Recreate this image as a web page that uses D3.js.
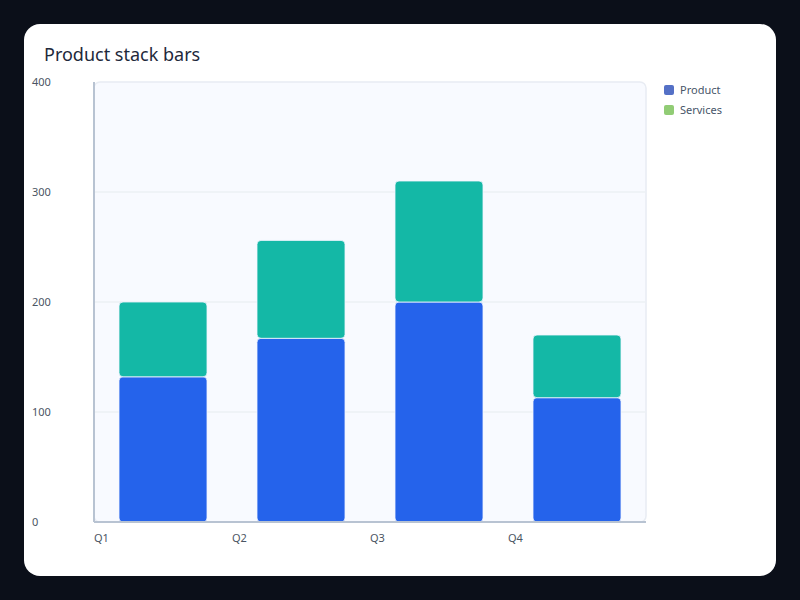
<!DOCTYPE html>
<html>
<head>
<meta charset="utf-8">
<script src="https://cdn.jsdelivr.net/npm/d3@7"></script>
<style>
  html, body { margin: 0; padding: 0; background: #0b0f19; }
  svg { display: block; font-family: "Noto Sans", "Open Sans", sans-serif; }
</style>
</head>
<body>
<div id="chart"></div>
<script>
// datos del grafico
var quarters = ["Q1", "Q2", "Q3", "Q4"];
var productValues = [132, 167, 200, 113];
var servicesValues = [68, 89, 110, 57];
var yTicks = [0, 100, 200, 300, 400];
var seriesNames = ["Product", "Services"];

var width = 800;
var height = 600;

var svg = d3.select("#chart")
            .append("svg")
            .attr("width", width)
            .attr("height", height);

// fondo y tarjeta
svg.append("rect")
    .attr("width", width)
    .attr("height", height)
    .attr("fill", "#0b0f19");

svg.append("rect")
    .attr("x", 24)
    .attr("y", 24)
    .attr("width", 752)
    .attr("height", 552)
    .attr("rx", 16)
    .attr("fill", "#ffffff");

// titulo
svg.append("text")
    .attr("x", 44)
    .attr("y", 61)
    .attr("fill", "#1e293b")
    .style("font-size", "18px")
    .text("Product stack bars");

// escalas
var plotLeft = 94, plotRight = 646, plotTop = 82, plotBottom = 522;

var x = d3.scaleBand()
            .domain(quarters)
            .range([plotLeft, plotRight])
            .paddingInner(50 / 138)
            .paddingOuter(25 / 138);

var y = d3.scaleLinear()
            .domain([0, 400])
            .range([plotBottom, plotTop]);

// area del grafico
svg.append("rect")
    .attr("x", plotLeft)
    .attr("y", plotTop)
    .attr("width", plotRight - plotLeft)
    .attr("height", plotBottom - plotTop)
    .attr("rx", 6)
    .attr("fill", "#f8faff")
    .attr("stroke", "#e8ecf3")
    .attr("stroke-width", 1.5);

// lineas de cuadricula
svg.append("g")
    .selectAll("line")
    .data(yTicks.filter(d => d > 0 && d < 400))
    .enter()
    .append("line")
    .attr("x1", plotLeft)
    .attr("x2", plotRight)
    .attr("y1", d => y(d))
    .attr("y2", d => y(d))
    .attr("stroke", "#edf0f5")
    .attr("stroke-width", 1.5);

// eje Y (etiquetas)
svg.append("g")
    .selectAll("text")
    .data(yTicks)
    .enter()
    .append("text")
    .attr("x", 32)
    .attr("y", d => y(d))
    .attr("dy", "0.35em")
    .attr("fill", "#4b5563")
    .style("font-size", "11px")
    .text(d => d);

// datos apilados
var table = quarters.map(function (q, i) {
    return { quarter: q, Product: productValues[i], Services: servicesValues[i] };
});
var stacked = d3.stack().keys(seriesNames)(table);
var barColors = { Product: "#2563eb", Services: "#14b8a6" };

svg.append("g")
    .selectAll("g")
    .data(stacked)
    .enter()
    .append("g")
    .attr("fill", d => barColors[d.key])
    .selectAll("rect")
    .data(d => d)
    .enter()
    .append("rect")
    .attr("x", d => x(d.data.quarter))
    .attr("y", d => y(d[1]))
    .attr("width", x.bandwidth())
    .attr("height", d => y(d[0]) - y(d[1]))
    .attr("rx", 4)
    .attr("stroke", "#f1f5ff")
    .attr("stroke-width", 0.8);

// lineas de ejes
svg.append("line")
    .attr("x1", plotLeft)
    .attr("x2", plotLeft)
    .attr("y1", plotTop)
    .attr("y2", plotBottom)
    .attr("stroke", "#b8c3d2")
    .attr("stroke-width", 2);

svg.append("line")
    .attr("x1", plotLeft)
    .attr("x2", plotRight)
    .attr("y1", plotBottom)
    .attr("y2", plotBottom)
    .attr("stroke", "#b8c3d2")
    .attr("stroke-width", 2);

// eje X (etiquetas)
svg.append("g")
    .selectAll("text")
    .data(quarters)
    .enter()
    .append("text")
    .attr("x", d => x(d) - x.step() * x.paddingOuter())
    .attr("y", 542)
    .attr("fill", "#4b5563")
    .style("font-size", "11px")
    .text(d => d);

// leyenda
var legendColors = ["#5470c6", "#91cc75"];
var legend = svg.append("g")
    .selectAll("g")
    .data(seriesNames)
    .enter()
    .append("g")
    .attr("transform", (d, i) => "translate(664," + (85 + i * 20) + ")");

legend.append("rect")
    .attr("width", 10)
    .attr("height", 10)
    .attr("rx", 2)
    .attr("fill", (d, i) => legendColors[i]);

legend.append("text")
    .attr("x", 16)
    .attr("y", 5)
    .attr("dy", "0.35em")
    .attr("fill", "#475569")
    .style("font-size", "11px")
    .text(d => d);
</script>
</body>
</html>
